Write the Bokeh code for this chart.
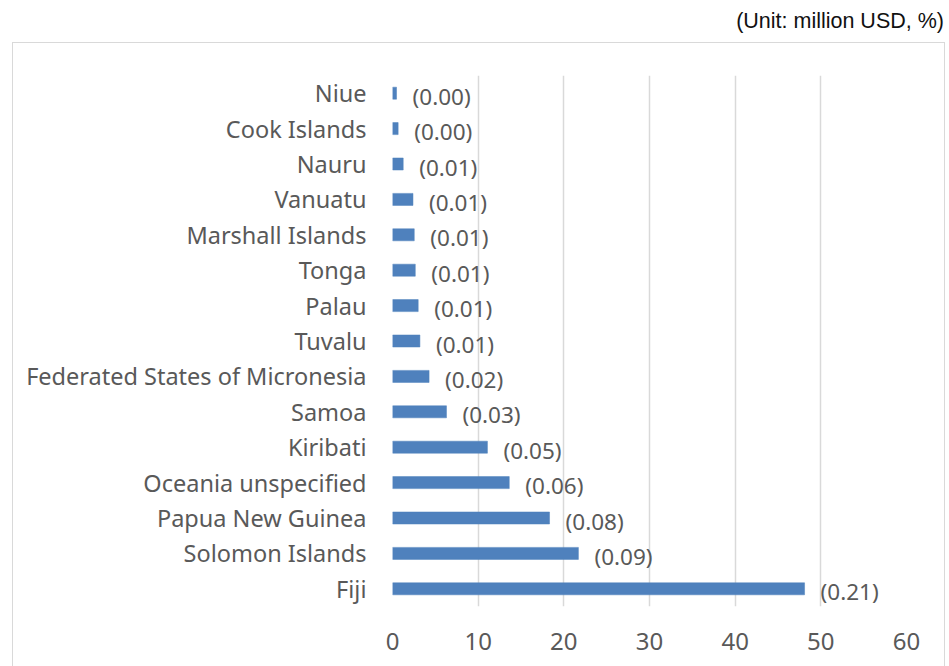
from bokeh.plotting import figure
from bokeh.layouts import column
from bokeh.models import ColumnDataSource, FactorRange, Range1d, FixedTicker, Div
from bokeh.embed import file_html
from bokeh.resources import INLINE
from bokeh.core.properties import value

# Data (top to bottom as shown)
countries = ["Niue", "Cook Islands", "Nauru", "Vanuatu", "Marshall Islands", "Tonga",
             "Palau", "Tuvalu", "Federated States of Micronesia", "Samoa", "Kiribati",
             "Oceania unspecified", "Papua New Guinea", "Solomon Islands", "Fiji"]
amounts = [0.47, 0.66, 1.25, 2.39, 2.54, 2.66, 3.0, 3.2, 4.27, 6.3, 11.08, 13.63, 18.33, 21.7, 48.1]
shares = [0.00, 0.00, 0.01, 0.01, 0.01, 0.01, 0.01, 0.01, 0.02, 0.03, 0.05, 0.06, 0.08, 0.09, 0.21]
x_ticks = [0, 10, 20, 30, 40, 50, 60]
unit_text = "(Unit: million USD, %)"

src = ColumnDataSource(dict(
    country=countries,
    amount=amounts,
    label=["({:.2f})".format(s) for s in shares],
))

FONT = "Noto Sans"
GRAY = "#595959"

# header with unit note
h = Div(text=unit_text, width=944, height=42, margin=0,
        styles={"text-align": "right", "font-family": "'Liberation Sans', Arial, sans-serif",
                "font-size": "21.5px", "color": "#111111", "line-height": "42px",
                "white-space": "nowrap"})

# main chart (outer box continues past the bottom of the window, as in the reference)
p = figure(width=933, height=624, output_backend="svg", toolbar_location=None,
           y_range=FactorRange(factors=list(reversed(countries)), range_padding=0),
           x_range=Range1d(0, 60),
           min_border_left=379, min_border_right=40, min_border_top=32, min_border_bottom=61,
           margin=(0, 0, 0, 12),
           styles={"border": "1.5px solid #d9d9d9", "border-bottom": "none",
                   "box-sizing": "border-box"})

p.hbar(y="country", right="amount", left=0, height=0.34, source=src,
       fill_color="#4F81BD", line_color="#4F81BD", line_width=0.5)

p.text(x="amount", y="country", text="label", source=src, x_offset=16, y_offset=3,
       text_align="left", text_baseline="middle", text_font=value(FONT),
       text_font_size="22.5px", text_color=GRAY)

p.outline_line_color = None
p.ygrid.grid_line_color = None
p.xgrid.grid_line_color = "#d9d9d9"
p.xgrid.grid_line_width = 1.5
p.xaxis.ticker = FixedTicker(ticks=x_ticks)

for ax in (p.xaxis[0], p.yaxis[0]):
    ax.axis_line_color = None
    ax.major_tick_line_color = None
    ax.minor_tick_line_color = None
    ax.major_label_text_font = FONT
    ax.major_label_text_color = GRAY

p.xaxis.major_label_text_font_size = "24px"
p.xaxis.major_label_standoff = 20
p.yaxis.major_label_text_font_size = "23.5px"
p.yaxis.major_label_standoff = 20

layout = column(h, p, spacing=0, margin=0)
open("out.html", "w").write(file_html(layout, INLINE))
